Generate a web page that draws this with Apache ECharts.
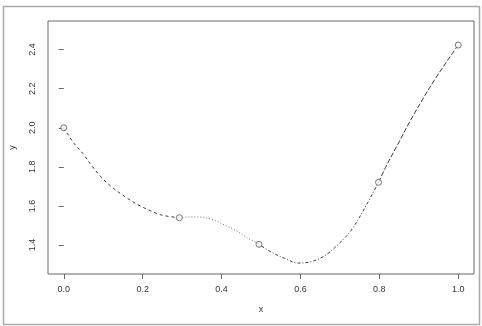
<!DOCTYPE html>
<html><head><meta charset="utf-8">
<script src="https://cdn.jsdelivr.net/npm/echarts@6/dist/echarts.min.js"></script>
<style>html,body{margin:0;padding:0;background:#fff}#c{width:482px;height:326px}</style>
</head><body><div id="c"></div>
<script>
// knots (open circles)
const pointX = [0.0, 0.293, 0.495, 0.798, 1.0];
const pointY = [2.0, 1.540, 1.404, 1.721, 2.423];
// curve
const curveX = [0.000,0.023,0.048,0.073,0.098,0.123,0.149,0.182,0.216,0.249,0.293,
  0.320,0.345,0.375,0.417,0.440,0.462,0.495,
  0.526,0.560,0.594,0.627,0.661,0.694,0.728,0.762,0.798,
  0.820,0.846,0.879,0.910,0.940,0.972,1.000];
const curveY = [2.000,1.928,1.869,1.800,1.741,1.695,1.656,1.613,1.579,1.553,1.540,
  1.544,1.543,1.531,1.494,1.470,1.441,1.404,
  1.364,1.332,1.308,1.315,1.345,1.400,1.474,1.586,1.721,
  1.814,1.912,2.038,2.146,2.245,2.342,2.423];
const xTicks = [0.0,0.2,0.4,0.6,0.8,1.0];
const yTicks = [1.4,1.6,1.8,2.0,2.2,2.4];
const dashes = [[3,3],[1,2],[1,2,3,2],[5,2]];
const segColors = ['#3a3a3a','#777','#3a3a3a','#3a3a3a'];

const segSeries = [];
for (let s = 0; s < pointX.length - 1; s++) {
  const d = [];
  for (let i = 0; i < curveX.length; i++) {
    if (curveX[i] >= pointX[s] - 1e-9 && curveX[i] <= pointX[s+1] + 1e-9) d.push([curveX[i], curveY[i]]);
  }
  segSeries.push({type:'line', data:d, smooth:0.35, symbol:'none', silent:true,
    lineStyle:{color:segColors[s], width:1, type:dashes[s]}, z:2});
}
const axisFont = {fontFamily:'Liberation Sans, Arial, sans-serif', fontSize:9, color:'#333'};
const chart = echarts.init(document.getElementById('c'), null, {renderer:'canvas'});
chart.setOption({
  animation:false,
  backgroundColor:'#fff',
  grid:{left:45, right:8, top:21, bottom:52, show:true, borderColor:'#666', borderWidth:1, backgroundColor:'transparent'},
  xAxis:{type:'value', min:-0.04, max:1.04,
    name:'x', nameLocation:'middle', nameGap:31, nameTextStyle:axisFont,
    axisLine:{show:false}, splitLine:{show:false},
    axisTick:{show:true, customValues:xTicks, length:5, lineStyle:{color:'#666'}},
    axisLabel:Object.assign({customValues:xTicks, margin:11, formatter:v=>v.toFixed(1)}, axisFont)},
  yAxis:{type:'value', min:1.252, max:2.546,
    name:'y', nameLocation:'middle', nameGap:31, nameRotate:90, nameTextStyle:axisFont,
    axisLine:{show:false}, splitLine:{show:false},
    axisTick:{show:true, customValues:yTicks, length:5, lineStyle:{color:'#666'}},
    axisLabel:Object.assign({customValues:yTicks, margin:11, rotate:90, formatter:v=>v.toFixed(1)}, axisFont)},
  graphic:[{type:'rect', shape:{x:3.5, y:6.5, width:476, height:318}, style:{fill:'none', stroke:'#aaa', lineWidth:1.5}, silent:true}],
  series: segSeries.concat([{type:'scatter', data:pointX.map((x,i)=>[x,pointY[i]]), symbol:'circle', symbolSize:6,
    itemStyle:{color:'#fff', borderColor:'#555', borderWidth:1}, z:3}])
});
</script></body></html>
